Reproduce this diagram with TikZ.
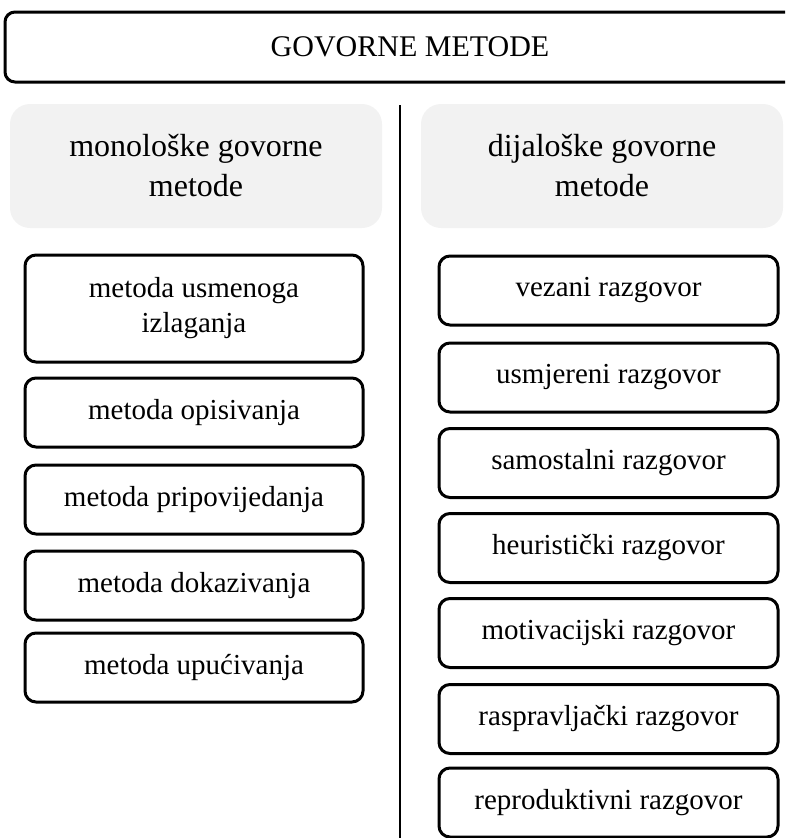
\documentclass[tikz,border=0pt]{standalone}
\usepackage{fontspec}
\setmainfont{Liberation Serif}
\definecolor{headgray}{HTML}{F2F2F2}
\begin{document}
\begin{tikzpicture}[x=1pt,y=-1pt,
  title/.style={draw, line width=3pt, rounded corners=10pt, minimum width=810pt, minimum height=70pt, inner sep=0pt, font=\fontsize{30}{36}\selectfont},
  hdr/.style={fill=headgray, rounded corners=20pt, minimum height=124pt, inner sep=0pt, align=center, font=\fontsize{32}{40}\selectfont},
  box/.style={draw, line width=3pt, rounded corners=11pt, minimum width=338pt, minimum height=69pt, inner sep=0pt, align=center, font=\fontsize{29}{35}\selectfont},
]
\useasboundingbox (0,0) rectangle (785,838);
\clip (0,0) rectangle (785,838);
\node[title] (t) at (410,47) {GOVORNE METODE};
\node[hdr, minimum width=372pt] (hl) at (196,166) {monološke govorne\\metode};
\node[hdr, minimum width=362pt] (hr) at (602,166) {dijaloške govorne\\metode};
\coordinate (vtop) at (400,105);
\coordinate (vbot) at (400,840);
\draw[line width=2pt] (vtop) -- (vbot);
% left column
\node[box, minimum height=107pt] (l1) at (194,308.5) {metoda usmenoga\\izlaganja};
\node[box] (l2) at (194,412.5) {metoda opisivanja};
\node[box] (l3) at (194,499.5) {metoda pripovijedanja};
\node[box] (l4) at (194,585.5) {metoda dokazivanja};
\node[box] (l5) at (194,667.5) {metoda upućivanja};
% right column
\node[box, minimum width=339pt] (r1) at (608.5,290.5) {vezani razgovor};
\node[box, minimum width=339pt] (r2) at (608.5,377.5) {usmjereni razgovor};
\node[box, minimum width=339pt] (r3) at (608.5,463) {samostalni razgovor};
\node[box, minimum width=339pt] (r4) at (608.5,548) {heuristički razgovor};
\node[box, minimum width=339pt] (r5) at (608.5,633) {motivacijski razgovor};
\node[box, minimum width=339pt] (r6) at (608.5,719) {raspravljački razgovor};
\node[box, minimum width=339pt] (r7) at (608.5,802.5) {reproduktivni razgovor};
\end{tikzpicture}
\end{document}
